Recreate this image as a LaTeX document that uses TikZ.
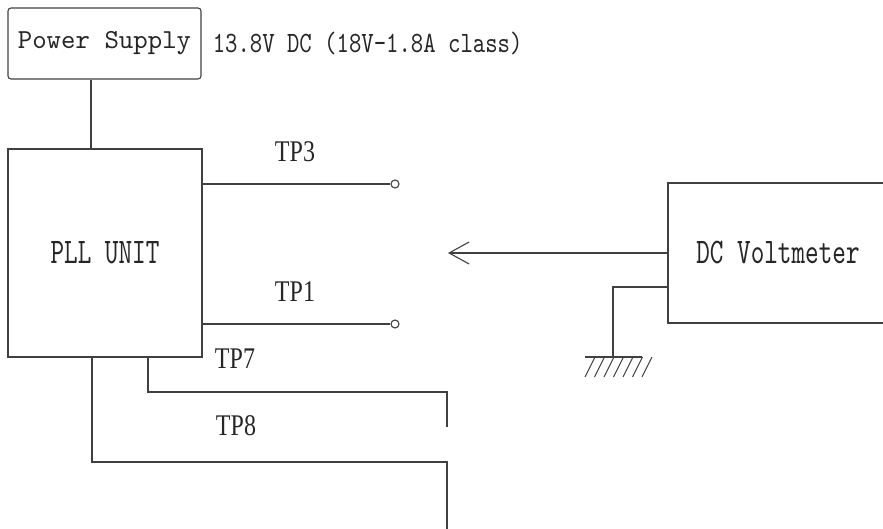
\documentclass[tikz,border=0pt]{standalone}
\usepackage{fontspec}
\usetikzlibrary{positioning, arrows.meta}
\newfontfamily\monofont{lmmono10-regular.otf}
\newfontfamily\monotall[FakeStretch=0.72]{lmmono10-regular.otf}
\newfontfamily\monomid[FakeStretch=0.8]{lmmono10-regular.otf}
\newfontfamily\tpfont[FakeStretch=0.8]{Liberation Serif}

\begin{document}
\begin{tikzpicture}[
    x=1pt, y=-1pt,
    wire/.style={draw=black!75, line width=1.1pt},
    unit/.style={rectangle, draw=black!75, line width=1.1pt, text=black!85, inner sep=0pt},
    tplabel/.style={text=black!85, font=\tpfont\fontsize{30}{30}\selectfont, inner sep=0pt},
    tpdot/.style={circle, draw=black!75, line width=1.1pt, minimum size=8pt, inner sep=0pt},
    arrow/.style={wire, -{Straight Barb[length=20pt, width=22pt]}}
]
    \clip (0,0) rectangle (883,529);

    % units
    \node[unit, rounded corners=3pt, minimum width=193pt, minimum height=71pt, font=\monofont\fontsize{27.5}{27.5}\selectfont] (ps) at (104.5,43.5) {Power Supply};
    \node[right=9pt of ps, inner sep=2pt, text=black!85, font=\monomid\fontsize{29.5}{29.5}\selectfont] (psnote) {13.8V DC (18V-1.8A class)};
    \node[unit, minimum width=194pt, minimum height=208pt, font=\monotall\fontsize{36}{36}\selectfont] (pll) at (105,253) {PLL UNIT};
    \node[unit, minimum width=220pt, minimum height=140pt, font=\monotall\fontsize{36}{36}\selectfont] (dcv) at (778,253) {DC Voltmeter};

    % test points
    \node[tpdot] (tp3) at (395,184) {};
    \node[tpdot] (tp1) at (395,324) {};
    \coordinate (tp7a) at (148,392);
    \coordinate (tp7end) at (447,427);
    \coordinate (tp8a) at (92,462);
    \coordinate (tp8end) at (447,540);
    \coordinate (psx) at (91,0);

    \node[tplabel] (lbl3) at (295,152) {TP3};
    \node[tplabel] (lbl1) at (295,292) {TP1};
    \node[tplabel] (lbl7) at (235,359) {TP7};
    \node[tplabel] (lbl8) at (236,426) {TP8};

    \draw[wire] (ps.south -| psx) -- (pll.north -| psx);
    \draw[wire] (pll.east |- tp3) -- (tp3.west);
    \draw[wire] (pll.east |- tp1) -- (tp1.west);
    \draw[wire] (pll.south -| tp7a) -- (tp7a) -| (tp7end);
    \draw[wire] (pll.south -| tp8a) -- (tp8a) -| (tp8end);

    % voltmeter probe and ground
    \coordinate (probe) at (448,253);
    \coordinate (gndwire) at (668,287);
    \coordinate (gnd) at (613,357);
    \draw[arrow] (dcv.west) -- (probe);
    \draw[wire] (dcv.west |- gndwire) -| (gnd);
    \draw[wire] ([xshift=-28pt]gnd) -- ([xshift=29pt]gnd);
    \foreach \i in {0,...,6}
        \draw[wire] ([xshift=-18pt+\i*9.5pt]gnd) -- ++(-10,20);

\end{tikzpicture}
\end{document}
